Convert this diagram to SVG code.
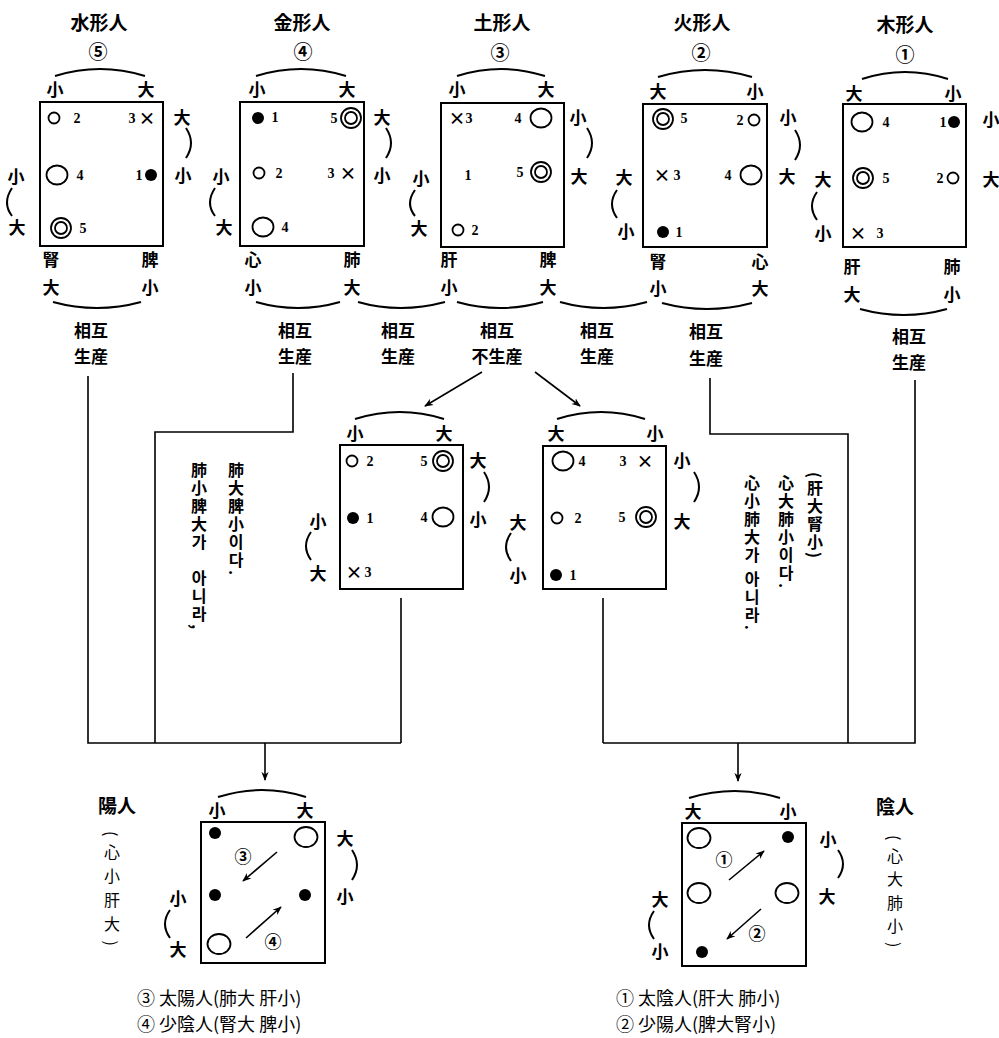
<svg xmlns="http://www.w3.org/2000/svg" width="999" height="1038" viewBox="0 0 999 1038">
<style>
text{font-family:"Noto Sans CJK KR","Noto Sans CJK SC",sans-serif;font-weight:700;fill:#000;text-anchor:middle;dominant-baseline:central}
.t{font-size:17px}
.h{font-size:19px}
.n{font-family:"Liberation Serif",serif;font-size:14px}
.vt{font-size:16px;writing-mode:vertical-rl;text-anchor:start;letter-spacing:2px}
.vb{font-size:16px;writing-mode:vertical-rl;text-anchor:start;font-weight:400}
.lg{font-size:18px;text-anchor:start;font-weight:400}
.box{fill:none;stroke:#000;stroke-width:2}
.arc{fill:none;stroke:#000;stroke-width:2}
.ln{fill:none;stroke:#000;stroke-width:1.6}
.o{fill:#fff;stroke:#000;stroke-width:1.8}
.f{fill:#000}
</style>
<defs>
<marker id="ah" viewBox="0 0 10 10" refX="9" refY="5" markerWidth="9" markerHeight="9" orient="auto" markerUnits="userSpaceOnUse">
<path d="M0,1 L10,5 L0,9 L3,5 z" fill="#000"/>
</marker>
<g id="dbl"><circle r="10" class="o"/><circle r="6" class="o"/></g>
</defs>

<!-- Box 1 水形人 -->
<g id="node-water">
<text class="h" x="99" y="21">水形人</text>
<text class="h" x="98" y="50">⑤</text>
<path class="arc" d="M55,76 Q100,62 145,76"/>
<text class="t" x="55" y="88">小</text><text class="t" x="146" y="88">大</text>
<rect class="box" x="40" y="102" width="123" height="144"/>
<circle class="o" cx="54" cy="118" r="5.5"/><text class="n" x="77" y="118">2</text>
<text class="n" x="132" y="118">3</text><text class="t" x="147" y="117">×</text>
<ellipse class="o" cx="57" cy="175" rx="10.5" ry="9.5"/><text class="n" x="80" y="175">4</text>
<text class="n" x="139" y="175">1</text><circle class="f" cx="151" cy="175" r="6"/>
<use href="#dbl" x="61" y="228"/><text class="n" x="83" y="228">5</text>
<text class="t" x="182" y="116">大</text><path class="arc" d="M186,128 Q196,143 186,158"/><text class="t" x="183" y="174">小</text>
<text class="t" x="16" y="175">小</text><path class="arc" d="M12,188 Q2,203 12,216"/><text class="t" x="17" y="226">大</text>
<text class="t" x="51" y="258">腎</text><text class="t" x="150" y="258">脾</text>
<text class="t" x="51" y="286">大</text><text class="t" x="150" y="286">小</text>
<path class="arc" d="M53,302 Q97,314 141,302"/>
<text class="t" x="91" y="329">相互</text><text class="t" x="91" y="355">生産</text>
</g>

<!-- Box 2 金形人 -->
<g id="node-metal">
<text class="h" x="302" y="21">金形人</text>
<text class="h" x="303" y="50">④</text>
<path class="arc" d="M256,76 Q301,62 346,76"/>
<text class="t" x="257" y="88">小</text><text class="t" x="347" y="88">大</text>
<rect class="box" x="240" y="102" width="124" height="144"/>
<circle class="f" cx="258" cy="118" r="6"/><text class="n" x="275" y="117">1</text>
<text class="n" x="334" y="118">5</text><use href="#dbl" x="351" y="118"/>
<text class="t" x="382" y="116">大</text><path class="arc" d="M386,128 Q396,143 386,158"/><text class="t" x="382" y="174">小</text>
<circle class="o" cx="259" cy="173" r="5.5"/><text class="n" x="279" y="173">2</text>
<text class="n" x="331" y="173">3</text><text class="t" x="348" y="172">×</text>
<text class="t" x="221" y="175">小</text><path class="arc" d="M215,188 Q205,203 215,216"/><text class="t" x="224" y="226">大</text>
<ellipse class="o" cx="263" cy="227" rx="10.5" ry="9.5"/><text class="n" x="285" y="227">4</text>
<text class="t" x="253" y="258">心</text><text class="t" x="352" y="258">肺</text>
<text class="t" x="253" y="286">小</text><text class="t" x="352" y="286">大</text>
<path class="arc" d="M256,302 Q298,314 340,302"/>
<text class="t" x="295" y="329">相互</text><text class="t" x="295" y="355">生産</text>
</g>

<!-- between 2 and 3 -->
<g id="node-mid23">
<path class="arc" d="M358,302 Q400,314 445,302"/>
<text class="t" x="398" y="329">相互</text><text class="t" x="398" y="355">生産</text>
</g>

<!-- Box 3 土形人 -->
<g id="node-earth">
<text class="h" x="502" y="21">土形人</text>
<text class="h" x="500" y="51">③</text>
<path class="arc" d="M457,76 Q501,62 545,76"/>
<text class="t" x="457" y="88">小</text><text class="t" x="546" y="88">大</text>
<rect class="box" x="441" y="103" width="123" height="144"/>
<text class="t" x="457" y="117">×</text><text class="n" x="469" y="118">3</text>
<text class="n" x="518" y="118">4</text><ellipse class="o" cx="541" cy="118" rx="10.5" ry="9.5"/>
<text class="t" x="578" y="116">小</text><path class="arc" d="M587,128 Q597,143 587,158"/><text class="t" x="579" y="175">大</text>
<text class="n" x="468" y="175">1</text>
<text class="n" x="520" y="172">5</text><use href="#dbl" x="541" y="172"/>
<text class="t" x="421" y="177">小</text><path class="arc" d="M415,190 Q405,204 415,216"/><text class="t" x="419" y="227">大</text>
<circle class="o" cx="458" cy="230" r="5.5"/><text class="n" x="475" y="230">2</text>
<text class="t" x="449" y="258">肝</text><text class="t" x="548" y="258">脾</text>
<text class="t" x="449" y="286">小</text><text class="t" x="548" y="286">大</text>
<path class="arc" d="M457,302 Q500,314 543,302"/>
<text class="t" x="497" y="329">相互</text><text class="t" x="497" y="355">不生産</text>
</g>

<!-- between 3 and 4 -->
<g id="node-mid34">
<path class="arc" d="M560,302 Q603,314 647,302"/>
<text class="t" x="597" y="329">相互</text><text class="t" x="597" y="355">生産</text>
</g>

<!-- Box 4 火形人 -->
<g id="node-fire">
<text class="h" x="702" y="21">火形人</text>
<text class="h" x="701" y="51">②</text>
<path class="arc" d="M658,77 Q705,63 752,77"/>
<text class="t" x="658" y="90">大</text><text class="t" x="755" y="90">小</text>
<rect class="box" x="643" y="104" width="124" height="143"/>
<use href="#dbl" x="663" y="119"/><text class="n" x="684" y="118">5</text>
<text class="n" x="740" y="120">2</text><circle class="o" cx="754" cy="120" r="5.5"/>
<text class="t" x="788" y="116">小</text><path class="arc" d="M795,130 Q805,145 795,160"/><text class="t" x="787" y="175">大</text>
<text class="t" x="662" y="174">×</text><text class="n" x="677" y="175">3</text>
<text class="n" x="728" y="175">4</text><ellipse class="o" cx="751" cy="175" rx="10.5" ry="9.5"/>
<text class="t" x="624" y="176">大</text><path class="arc" d="M617,190 Q607,204 617,218"/><text class="t" x="626" y="230">小</text>
<circle class="f" cx="663" cy="232" r="6"/><text class="n" x="679" y="232">1</text>
<text class="t" x="658" y="260">腎</text><text class="t" x="760" y="260">心</text>
<text class="t" x="658" y="287">小</text><text class="t" x="760" y="287">大</text>
<path class="arc" d="M662,303 Q707,315 752,303"/>
<text class="t" x="706" y="330">相互</text><text class="t" x="706" y="357">生産</text>
</g>

<!-- Box 5 木形人 -->
<g id="node-wood">
<text class="h" x="905" y="23">木形人</text>
<text class="h" x="905" y="53">①</text>
<path class="arc" d="M862,79 Q905,65 948,79"/>
<text class="t" x="854" y="92">大</text><text class="t" x="953" y="92">小</text>
<rect class="box" x="843" y="104" width="123" height="143"/>
<ellipse class="o" cx="862" cy="122" rx="10.5" ry="9.5"/><text class="n" x="886" y="122">4</text>
<text class="n" x="943" y="122">1</text><circle class="f" cx="954" cy="122" r="6"/>
<text class="t" x="991" y="118">小</text><text class="t" x="991" y="178">大</text>
<use href="#dbl" x="863" y="178"/><text class="n" x="886" y="178">5</text>
<text class="n" x="940" y="178">2</text><circle class="o" cx="953" cy="178" r="5.5"/>
<text class="t" x="823" y="178">大</text><path class="arc" d="M817,192 Q807,206 817,220"/><text class="t" x="823" y="232">小</text>
<text class="t" x="858" y="232">×</text><text class="n" x="880" y="233">3</text>
<text class="t" x="852" y="265">肝</text><text class="t" x="952" y="265">肺</text>
<text class="t" x="852" y="293">大</text><text class="t" x="952" y="293">小</text>
<path class="arc" d="M860,309 Q904,321 947,309"/>
<text class="t" x="909" y="335">相互</text><text class="t" x="909" y="361">生産</text>
</g>

<!-- Middle left box -->
<g id="node-mid-left">
<path class="arc" d="M355,419 Q400,405 444,419"/>
<text class="t" x="355" y="432">小</text><text class="t" x="444" y="432">大</text>
<rect class="box" x="340" y="445" width="123" height="144"/>
<circle class="o" cx="352" cy="461" r="5.5"/><text class="n" x="370" y="461">2</text>
<text class="n" x="424" y="461">5</text><use href="#dbl" x="443" y="461"/>
<text class="t" x="478" y="459">大</text><path class="arc" d="M484,472 Q494,487 484,502"/><text class="t" x="478" y="518">小</text>
<circle class="f" cx="353" cy="518" r="6"/><text class="n" x="370" y="518">1</text>
<text class="n" x="424" y="517">4</text><ellipse class="o" cx="443" cy="517" rx="10.5" ry="9.5"/>
<text class="t" x="318" y="520">小</text><path class="arc" d="M311,532 Q301,546 311,560"/><text class="t" x="318" y="572">大</text>
<text class="t" x="354" y="571">×</text><text class="n" x="368" y="572">3</text>
</g>

<!-- Middle right box -->
<g id="node-mid-right">
<path class="arc" d="M557,419 Q601,405 645,419"/>
<text class="t" x="556" y="432">大</text><text class="t" x="655" y="432">小</text>
<rect class="box" x="543" y="446" width="123" height="143"/>
<ellipse class="o" cx="563" cy="461" rx="10.5" ry="9.5"/><text class="n" x="582" y="461">4</text>
<text class="n" x="623" y="461">3</text><text class="t" x="645" y="460">×</text>
<text class="t" x="682" y="459">小</text><path class="arc" d="M694,472 Q704,487 694,502"/><text class="t" x="682" y="520">大</text>
<circle class="o" cx="557" cy="518" r="5.5"/><text class="n" x="578" y="518">2</text>
<text class="n" x="622" y="517">5</text><use href="#dbl" x="646" y="517"/>
<text class="t" x="518" y="521">大</text><path class="arc" d="M511,533 Q501,547 511,561"/><text class="t" x="518" y="574">小</text>
<circle class="f" cx="556" cy="575" r="6"/><text class="n" x="573" y="575">1</text>
</g>

<!-- Vertical note left -->
<g id="note-left">
<text class="vt" x="236" y="462">肺大脾小이다.</text>
<text class="vt" x="199" y="462">肺小脾大가　아니라,</text>
</g>

<!-- Vertical note right -->
<g id="note-right">
<text class="vt" x="815" y="472">(肝大腎小)</text>
<text class="vt" x="786" y="475">心大肺小이다.</text>
<text class="vt" x="752" y="475">心小肺大가 아니라.</text>
</g>

<!-- Bottom left 陽人 -->
<g id="node-yang">
<text class="h" x="117" y="804">陽人</text>
<text class="vb" x="112" y="831" style="letter-spacing:8px">(心小肝大)</text>
<path class="arc" d="M218,797 Q262,783 306,797"/>
<text class="t" x="217" y="809">小</text><text class="t" x="305" y="809">大</text>
<rect class="box" x="201" y="822" width="124" height="141"/>
<circle class="f" cx="215" cy="833" r="6"/>
<ellipse class="o" cx="306" cy="837" rx="11.5" ry="10"/>
<text class="t" x="243" y="855">③</text>
<line class="ln" x1="277" y1="852" x2="243" y2="881" marker-end="url(#ah)"/>
<circle class="f" cx="215" cy="895" r="6"/><circle class="f" cx="305" cy="895" r="6"/>
<line class="ln" x1="246" y1="938" x2="281" y2="907" marker-end="url(#ah)"/>
<text class="t" x="273" y="940">④</text>
<ellipse class="o" cx="219" cy="944" rx="11.5" ry="10"/>
<text class="t" x="345" y="837">大</text><path class="arc" d="M352,850 Q362,865 352,880"/><text class="t" x="345" y="895">小</text>
<text class="t" x="178" y="897">小</text><path class="arc" d="M170,910 Q160,924 170,938"/><text class="t" x="178" y="948">大</text>
<text class="lg" x="137" y="997">③ 太陽人(肺大 肝小)</text>
<text class="lg" x="137" y="1023">④ 少陰人(腎大 脾小)</text>
</g>

<!-- Bottom right 陰人 -->
<g id="node-yin">
<text class="h" x="895" y="805">陰人</text>
<text class="vb" x="895" y="835" style="letter-spacing:7.5px">(心大肺小)</text>
<path class="arc" d="M689,798 Q735,784 780,798"/>
<text class="t" x="693" y="810">大</text><text class="t" x="788" y="810">小</text>
<rect class="box" x="682" y="823" width="124" height="143"/>
<ellipse class="o" cx="699" cy="838" rx="11.5" ry="10"/>
<circle class="f" cx="788" cy="837" r="6"/>
<text class="t" x="724" y="858">①</text>
<line class="ln" x1="729" y1="880" x2="764" y2="851" marker-end="url(#ah)"/>
<ellipse class="o" cx="699" cy="893" rx="11.5" ry="10"/>
<ellipse class="o" cx="787" cy="893" rx="11.5" ry="10"/>
<line class="ln" x1="761" y1="909" x2="727" y2="939" marker-end="url(#ah)"/>
<text class="t" x="757" y="932">②</text>
<circle class="f" cx="702" cy="952" r="6"/>
<text class="t" x="828" y="838">小</text><path class="arc" d="M838,850 Q848,864 838,878"/><text class="t" x="827" y="895">大</text>
<text class="t" x="660" y="898">大</text><path class="arc" d="M654,911 Q644,925 654,939"/><text class="t" x="660" y="950">小</text>
<text class="lg" x="616" y="997">① 太陰人(肝大 肺小)</text>
<text class="lg" x="616" y="1023">② 少陽人(脾大腎小)</text>
</g>

<!-- Connectors -->
<g id="connectors">
<polyline class="ln" points="88,376 88,743 401,743"/>
<polyline class="ln" points="293,373 293,432 155,432 155,743"/>
<line class="ln" x1="401" y1="598" x2="401" y2="743"/>
<line class="ln" x1="265" y1="743" x2="265" y2="780" marker-end="url(#ah)"/>
<polyline class="ln" points="710,378 710,434 848,434 848,743"/>
<polyline class="ln" points="915,380 915,743 603,743"/>
<line class="ln" x1="603" y1="598" x2="603" y2="743"/>
<line class="ln" x1="738" y1="743" x2="738" y2="781" marker-end="url(#ah)"/>
<line class="ln" x1="482" y1="372" x2="425" y2="406" marker-end="url(#ah)"/>
<line class="ln" x1="535" y1="372" x2="580" y2="406" marker-end="url(#ah)"/>
</g>
</svg>
